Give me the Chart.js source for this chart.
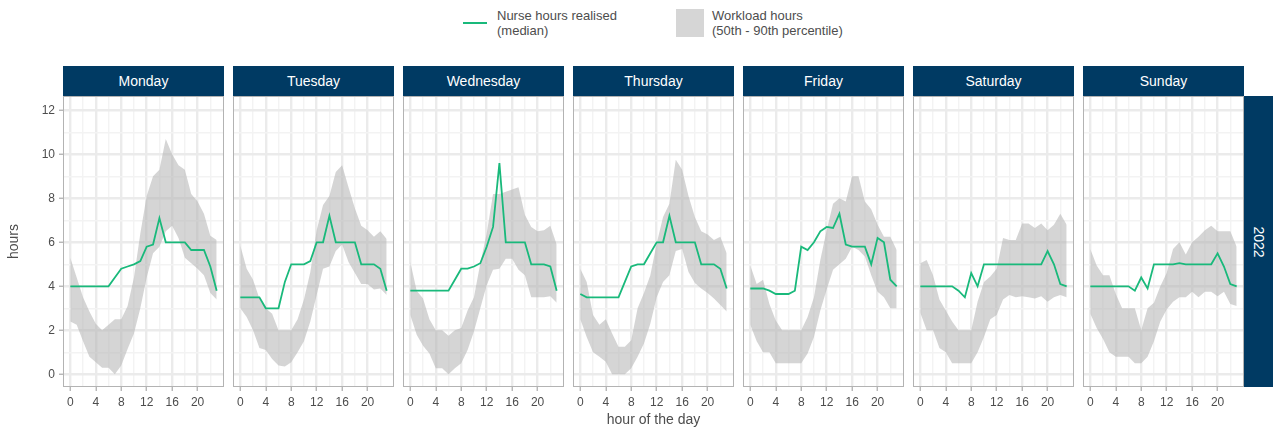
<!DOCTYPE html>
<html><head><meta charset="utf-8">
<script src="https://cdn.jsdelivr.net/npm/chart.js@4.4.1/dist/chart.umd.min.js"></script>
<style>
body{margin:0;width:1273px;height:429px;position:relative;background:#fff;font-family:"Liberation Sans",Arial,sans-serif;overflow:hidden}
.strip{position:absolute;top:66px;height:30px;background:#003A63;color:#fff;font-size:14px;display:flex;align-items:center;justify-content:center}
.rstrip{position:absolute;left:1244px;top:96px;width:29px;height:291px;background:#003A63;color:#fff;font-size:14px;display:flex;align-items:center;justify-content:center}
.rstrip span{transform:rotate(90deg);display:block}
.cw{position:absolute;top:96px;height:333px}
.leg{position:absolute;font-size:13px;line-height:15px;color:#4D4D4D}
</style></head><body>
<div class="leg" style="left:463px;top:22px;width:24px;height:2px;background:#19B97B"></div>
<div class="leg" style="left:497px;top:8px">Nurse hours realised<br>(median)</div>
<div class="leg" style="left:676px;top:9px;width:28px;height:28px;background:#D6D6D6"></div>
<div class="leg" style="left:712px;top:8px">Workload hours<br>(50th - 90th percentile)</div>
<div class="rstrip"><span>2022</span></div>
<script>
const hours = [0,1,2,3,4,5,6,7,8,9,10,11,12,13,14,15,16,17,18,19,20,21,22,23];
const days = ['Monday','Tuesday','Wednesday','Thursday','Friday','Saturday','Sunday'];
const xTickValues = [0,4,8,12,16,20];
const yTickValues = [0,2,4,6,8,10,12];

const mondayMedian = [4,4,4,4,4,4,4,4.4,4.8,4.9,5.0,5.15,5.8,5.9,7.1,6,6,6,6,5.65,5.65,5.65,4.9,3.8];
const mondayP50 = [2.4,2.25,1.5,0.8,0.55,0.3,0.3,0.0,0.4,1.15,1.85,3.0,4.4,5.5,5.8,6.5,6.75,6.2,5.3,5.05,4.8,4.5,3.7,3.4];
const mondayP90 = [5.3,4.4,3.5,2.85,2.3,2.0,2.25,2.5,2.5,3.1,4.4,6.4,8.1,9.0,9.3,10.7,10.0,9.5,9.3,8.2,7.85,7.3,6.3,6.1];

const tuesdayMedian = [3.5,3.5,3.5,3.5,3.0,3.0,3.0,4.2,5.0,5.0,5.0,5.15,6,6,7.2,6,6,6,6,5,5,5,4.8,3.8];
const tuesdayP50 = [3.0,2.6,2.0,1.2,1.1,0.7,0.4,0.35,0.55,1.0,1.5,2.4,3.6,4.8,4.9,5.6,5.9,5.1,4.6,4.1,4.1,3.85,3.9,3.6];
const tuesdayP90 = [5.85,4.8,4.3,3.45,3.0,2.75,2.0,2.0,2.0,2.5,3.4,4.65,6.55,7.7,8.1,9.2,9.5,8.5,7.55,6.75,6.55,6.25,6.5,6.15];

const wednesdayMedian = [3.8,3.8,3.8,3.8,3.8,3.8,3.8,4.3,4.8,4.8,4.9,5.05,5.8,6.7,9.6,6,6,6,6,5,5,5,4.9,3.8];
const wednesdayP50 = [2.7,1.8,1.3,0.95,0.27,0.27,0.0,0.27,0.5,1.1,1.95,3.0,4.05,4.75,4.8,5.25,5.25,4.75,4.5,3.5,3.5,3.5,3.55,3.25];
const wednesdayP90 = [5.1,3.8,3.45,2.5,2.0,2.0,1.75,2.0,2.1,2.9,3.5,5.05,6.4,8.2,8.2,8.3,8.4,8.5,7.25,6.7,6.5,6.55,6.75,5.9];

const thursdayMedian = [3.65,3.5,3.5,3.5,3.5,3.5,3.5,4.2,4.9,5.0,5.0,5.5,6.0,6.0,7.2,6,6,6,6,5,5,5,4.8,3.9];
const thursdayP50 = [2.5,1.7,1.0,0.8,0.57,0,0,0,0.27,0.8,1.4,2.3,3.5,4.2,4.5,5.6,5.7,4.65,4.15,3.9,3.7,3.45,3.15,2.85];
const thursdayP90 = [4.8,4.2,2.7,2.25,2.5,1.85,1.25,1.25,1.55,3.0,3.7,4.5,5.95,7.15,7.75,9.75,9.3,8.1,7.15,6.5,6.35,6.1,6.25,5.5];

const fridayMedian = [3.9,3.9,3.9,3.8,3.65,3.65,3.65,3.8,5.8,5.65,6.0,6.5,6.7,6.65,7.3,5.9,5.8,5.8,5.8,5.0,6.2,6.0,4.3,4.0];
const fridayP50 = [2.25,1.5,1.0,1.0,0.5,0.5,0.5,0.5,0.5,0.95,1.7,2.9,3.85,4.75,5.0,5.25,5.8,5.65,5.35,4.5,3.75,3.5,3.0,3.0];
const fridayP90 = [4.95,4.1,4.3,3.2,2.45,2.0,2.0,2.0,2.0,2.6,3.5,5.2,6.55,7.75,8.0,7.85,9.0,9.0,7.85,7.5,6.8,6.25,6.25,5.65];

const saturdayMedian = [4,4,4,4,4,4,3.8,3.5,4.6,4.0,5,5,5,5,5,5,5,5,5,5,5.6,5.0,4.1,4.0];
const saturdayP50 = [2.8,2.0,2.0,1.2,1.0,0.5,0.5,0.5,0.5,1.0,1.7,2.5,2.7,3.4,3.6,3.5,3.55,3.5,3.45,3.55,3.3,3.5,3.6,3.5];
const saturdayP90 = [5.05,5.2,4.5,3.4,2.9,2.4,2.0,2.0,2.0,3.3,4.2,4.45,4.8,6.2,6.1,6.1,6.85,6.85,6.65,6.85,6.55,6.8,7.3,6.8];

const sundayMedian = [4,4,4,4,4,4,4,3.8,4.4,3.9,5,5,5,5,5.05,5,5,5,5,5,5.5,4.9,4.1,4.0];
const sundayP50 = [2.75,2.1,1.6,1.0,0.8,0.8,0.8,0.5,0.5,0.8,1.5,2.4,2.95,3.3,3.5,3.5,3.75,3.5,3.75,3.75,3.55,3.75,3.2,3.1];
const sundayP90 = [5.7,4.95,4.5,4.5,3.65,3.0,3.0,3.0,2.0,3.0,3.25,4.0,4.6,5.7,6.0,5.45,6.0,6.25,6.55,6.75,6.5,6.5,6.5,5.8];

const medians = [mondayMedian,tuesdayMedian,wednesdayMedian,thursdayMedian,fridayMedian,saturdayMedian,sundayMedian];
const p50s = [mondayP50,tuesdayP50,wednesdayP50,thursdayP50,fridayP50,saturdayP50,sundayP50];
const p90s = [mondayP90,tuesdayP90,wednesdayP90,thursdayP90,fridayP90,saturdayP90,sundayP90];

const GREEN = '#19B97B', BAND = 'rgba(178,178,178,0.55)';
const TXT = '#4D4D4D';
const FONT = '"Liberation Sans", Arial, sans-serif';

const borderPlugin = {
  id: 'panelBorder',
  afterDatasetsDraw(chart) {
    const a = chart.chartArea, c = chart.ctx;
    c.save(); c.strokeStyle = '#B3B3B3'; c.lineWidth = 1;
    c.strokeRect(a.left + 0.5, a.top + 0.5, a.right - a.left - 1, a.bottom - a.top - 1);
    c.restore();
  }
};

const pts = arr => arr.map((v, i) => ({x: hours[i], y: v}));
const noPad = s => { s.paddingTop = 0; s.paddingBottom = 0; s.paddingLeft = 0; s.paddingRight = 0; };

days.forEach((day, k) => {
  const panelLeft = 63 + 170 * k;
  const strip = document.createElement('div');
  strip.className = 'strip';
  strip.style.left = panelLeft + 'px';
  strip.style.width = '161px';
  strip.textContent = day;
  document.body.appendChild(strip);

  const first = k === 0;
  const w = first ? 224 : 161;
  const wrap = document.createElement('div');
  wrap.className = 'cw';
  wrap.style.left = (first ? 0 : panelLeft) + 'px';
  wrap.style.width = w + 'px';
  const cv = document.createElement('canvas');
  cv.width = w; cv.height = 333;
  cv.style.width = w + 'px'; cv.style.height = '333px';
  wrap.appendChild(cv);
  document.body.appendChild(wrap);

  new Chart(cv, {
    type: 'line',
    data: {
      datasets: [
        {label: 'Nurse hours realised (median)', data: pts(medians[k]), borderColor: GREEN, borderWidth: 1.8, pointRadius: 0, tension: 0, fill: false},
        {label: 'p50', data: pts(p50s[k]), borderWidth: 0, borderColor: 'rgba(0,0,0,0)', pointRadius: 0, tension: 0, fill: false},
        {label: 'Workload hours (50th - 90th percentile)', data: pts(p90s[k]), borderWidth: 0, borderColor: 'rgba(0,0,0,0)', backgroundColor: BAND, pointRadius: 0, tension: 0, fill: 1}
      ]
    },
    options: {
      responsive: false, animation: false, devicePixelRatio: 1,
      layout: {padding: 0},
      plugins: {legend: {display: false}, tooltip: {enabled: false}},
      scales: {
        x: {
          type: 'linear', min: -1.15, max: 24.15,
          afterBuildTicks: s => { s.ticks = [0,2,4,6,8,10,12,14,16,18,20,22].map(v => ({value: v})); },
          afterFit: s => { s.height = 42; noPad(s); },
          border: {display: false},
          grid: {
            color: c => (c.tick && c.tick.value % 4 === 0) ? '#EBEBEB' : '#F3F3F3',
            lineWidth: c => (c.tick && c.tick.value % 4 === 0) ? 2.4 : 1.4,
            tickColor: c => (c.tick && c.tick.value % 4 === 0) ? '#999999' : 'rgba(0,0,0,0)',
            tickWidth: 1, tickLength: 4, drawTicks: true
          },
          ticks: {
            autoSkip: false, maxRotation: 0, padding: 4, color: TXT,
            font: {family: FONT, size: 12},
            callback: v => xTickValues.includes(v) ? String(v) : ''
          },
          title: {display: k === 3, text: 'hour of the day', color: TXT, padding: {top: 0, bottom: 0},
            font: {family: FONT, size: 14}}
        },
        y: {
          type: 'linear', min: -0.577, max: 12.65,
          afterBuildTicks: s => { s.ticks = [0,1,2,3,4,5,6,7,8,9,10,11,12].map(v => ({value: v})); },
          afterFit: s => { s.width = first ? 63 : 0; noPad(s); },
          border: {display: false},
          grid: {
            color: c => (c.tick && c.tick.value % 2 === 0) ? '#EBEBEB' : '#F3F3F3',
            lineWidth: c => (c.tick && c.tick.value % 2 === 0) ? 2.4 : 1.4,
            tickColor: c => (first && c.tick && c.tick.value % 2 === 0) ? '#999999' : 'rgba(0,0,0,0)',
            tickWidth: 1, tickLength: 4, drawTicks: first
          },
          ticks: {
            display: first, autoSkip: false, padding: 4, color: TXT,
            font: {family: FONT, size: 12},
            callback: v => yTickValues.includes(v) ? String(v) : ''
          },
          title: {display: first, text: 'hours', color: TXT, padding: {top: 6, bottom: 0},
            font: {family: FONT, size: 14}}
        }
      }
    },
    plugins: [borderPlugin]
  });
});
</script>
</body></html>
